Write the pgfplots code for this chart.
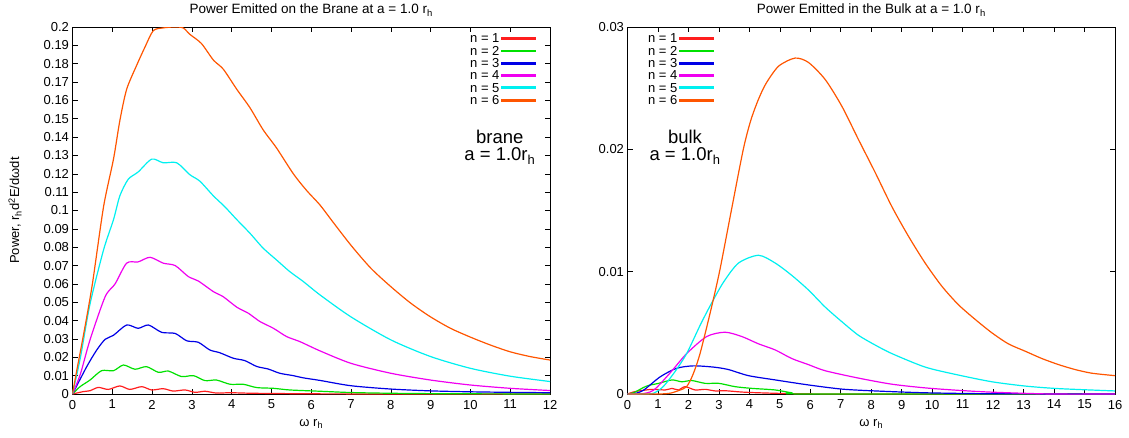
\documentclass[border=0pt]{standalone}
\usepackage{fontspec}
\setmainfont{Liberation Sans}
\usepackage{pgfplots}
\pgfplotsset{compat=1.18}
\definecolor{cA}{RGB}{255,30,30}
\definecolor{cB}{RGB}{0,225,0}
\definecolor{cC}{RGB}{0,0,230}
\definecolor{cD}{RGB}{240,0,240}
\definecolor{cE}{RGB}{0,240,240}
\definecolor{cF}{RGB}{255,85,0}
\pgfplotsset{
 gp/.style={
  scale only axis, height=367pt,
  tick align=inside, major tick length=5pt,
  axis line style={line width=0.8pt},
  tick style={black, line width=0.6pt},
  tick label style={font=\fontsize{13}{15}\selectfont},
  xticklabel style={yshift=-2.5pt},
  /pgf/number format/assume math mode=true,
  yticklabel style={/pgf/number format/fixed, /pgf/number format/precision=2},
  scaled y ticks=false, scaled x ticks=false,
  every axis title/.style={font=\fontsize{13.5}{15}\selectfont, at={(axis description cs:0.5,1)}, anchor=base, yshift=13pt},
  every axis x label/.style={font=\fontsize{13}{15}\selectfont, at={(axis description cs:0.5,0)}, anchor=base, yshift=-32pt},
  legend style={draw=none, fill=none, inner sep=0pt, outer sep=0pt,
    font=\fontsize{13}{13}\selectfont, cells={anchor=east},
    nodes={inner sep=1.5pt, text height=8.8pt, text depth=0.5pt}, row sep=0pt},
  legend plot pos=right,
  legend image code/.code={\fill[#1] (0pt,-0.8pt) rectangle (34pt,0.8pt);},
  every axis plot/.append style={line width=1.2pt, smooth, tension=0.45, no markers},
 }
}
\begin{document}
\begin{tikzpicture}
\path[use as bounding box] (0,0) rectangle (1129pt,437pt);
\begin{axis}[gp, at={(72.5pt,43pt)}, anchor=south west, width=477.5pt,
  xmin=0, xmax=12, ymin=0, ymax=0.2,
  xtick={0,1,...,12},
  ytick={0,0.01,0.02,0.03,0.04,0.05,0.06,0.07,0.08,0.09,0.1,0.11,0.12,0.13,0.14,0.15,0.16,0.17,0.18,0.19,0.2},
  title={Power Emitted on the Brane at a = 1.0 r\textsubscript{h}},
  xlabel={ω r\textsubscript{h}},
  ylabel={Power, r\textsubscript{h}d\textsuperscript{2}E/dωdt},
  every axis y label/.style={font=\fontsize{13}{15}\selectfont, at={(axis description cs:-0.1204,0.5)}, rotate=90, anchor=center},
  legend style={at={(axis description cs:0.971,0.985)}, anchor=north east},
]
\addplot[cA] coordinates {(0,0)(0.27,0.0013)(0.44,0.0018)(0.65,0.0036)(0.9,0.0025)(1.19,0.0044)(1.44,0.0025)(1.74,0.004)(1.99,0.0022)(2.28,0.0029)(2.53,0.0016)(2.83,0.0022)(3.08,0.0009)(3.33,0.0015)(3.62,0.0005)(3.96,0.0007)(4.5,0.0004)(5,0.0003)(6,0.0001)(8,0.00003)(12,0)};
\addlegendentry{n = 1}
\addplot[cB] coordinates {(0,0)(0.19,0.004)(0.44,0.0076)(0.73,0.0127)(1.03,0.0127)(1.28,0.0158)(1.57,0.0135)(1.86,0.0149)(2.16,0.0118)(2.41,0.0125)(2.74,0.0095)(3.04,0.010)(3.33,0.0073)(3.62,0.0076)(3.96,0.0053)(4.29,0.0053)(4.63,0.0035)(5.05,0.0031)(5.46,0.0022)(6.22,0.0015)(7,0.0008)(8,0.0004)(9,0.0002)(10,0.0001)(12,0)};
\addlegendentry{n = 2}
\addplot[cC] coordinates {(0,0)(0.36,0.015)(0.61,0.024)(0.82,0.0298)(1.03,0.032)(1.36,0.0376)(1.65,0.0358)(1.91,0.0376)(2.24,0.0336)(2.58,0.033)(2.87,0.029)(3.16,0.0282)(3.45,0.024)(3.70,0.0225)(4.04,0.0195)(4.33,0.0182)(4.63,0.015)(4.92,0.0136)(5.21,0.0113)(5.55,0.010)(5.80,0.0088)(6.22,0.0074)(7,0.0045)(8,0.0027)(9,0.0017)(10,0.0012)(11,0.0009)(12,0.0007)};
\addlegendentry{n = 3}
\addplot[cD] coordinates {(0,0)(0.2,0.011)(0.44,0.0295)(0.82,0.053)(1.07,0.060)(1.36,0.0713)(1.65,0.072)(1.95,0.0745)(2.28,0.0713)(2.58,0.070)(2.91,0.064)(3.16,0.0616)(3.54,0.0558)(3.79,0.053)(4.13,0.0473)(4.42,0.044)(4.71,0.0395)(5.05,0.0358)(5.38,0.0313)(5.72,0.0285)(6.22,0.0235)(7,0.0167)(8,0.0113)(9,0.0076)(10,0.0049)(11,0.0031)(12,0.0019)};
\addlegendentry{n = 4}
\addplot[cE] coordinates {(0,0)(0.2,0.02)(0.44,0.049)(0.78,0.0785)(1.03,0.095)(1.19,0.108)(1.40,0.117)(1.65,0.121)(1.99,0.128)(2.28,0.126)(2.62,0.126)(2.95,0.1195)(3.2,0.116)(3.54,0.108)(3.83,0.102)(4.13,0.095)(4.46,0.0876)(4.79,0.0795)(5.13,0.073)(5.46,0.0667)(5.80,0.0613)(6.22,0.054)(7,0.042)(8,0.0295)(9,0.0204)(10,0.014)(11,0.0097)(12,0.0068)};
\addlegendentry{n = 5}
\addplot[cF] coordinates {(0,0)(0.1,0.012)(0.3,0.035)(0.5,0.06)(0.78,0.102)(1.03,0.128)(1.19,0.149)(1.36,0.166)(1.61,0.179)(1.82,0.189)(2.03,0.198)(2.28,0.1995)(2.55,0.2)(2.78,0.1995)(2.95,0.196)(3.24,0.191)(3.54,0.182)(3.79,0.177)(4.13,0.166)(4.46,0.156)(4.79,0.144)(5.13,0.134)(5.55,0.120)(5.88,0.111)(6.22,0.103)(6.5,0.095)(7,0.081)(7.5,0.0685)(8,0.0585)(8.5,0.0495)(9,0.042)(9.5,0.0358)(10,0.031)(10.5,0.0267)(11,0.023)(11.5,0.0204)(12,0.0185)};
\addlegendentry{n = 6}
\node[align=center, font=\fontsize{18.5}{17.5}\selectfont] at (rel axis cs:0.895,0.673) {brane\\a = 1.0r\textsubscript{h}};
\end{axis}
\begin{axis}[gp, at={(627.5pt,43pt)}, anchor=south west, width=487.5pt,
  xmin=0, xmax=16, ymin=0, ymax=0.03,
  xtick={0,1,...,16},
  ytick={0,0.01,0.02,0.03},
  title={Power Emitted in the Bulk at a = 1.0 r\textsubscript{h}},
  xlabel={ω r\textsubscript{h}},
  legend style={at={(axis description cs:0.1774,0.985)}, anchor=north east},
]
\addplot[cA] coordinates {(0,0)(0.25,0.0002)(0.8,0.00038)(1.24,0.00033)(1.46,0.00046)(1.67,0.00033)(1.89,0.0006)(2.22,0.00033)(2.55,0.00038)(2.88,0.00025)(3.2,0.00027)(3.75,0.00016)(4.3,0.0001)(5.4,0.00003)(7.5,0)(16,0)};
\addlegendentry{n = 1}
\addplot[cB] coordinates {(0,0)(0.2,0.0001)(0.5,0.0005)(0.69,0.0007)(1.02,0.00087)(1.46,0.00115)(1.78,0.001)(2.11,0.0011)(2.55,0.00087)(3.0,0.00087)(3.53,0.0006)(4.08,0.00046)(4.85,0.00033)(5.39,0.0001)(5.94,0)(16,0)};
\addlegendentry{n = 2}
\addplot[cC] coordinates {(0,0)(0.2,0.00002)(0.52,0.0003)(1.07,0.0014)(1.61,0.0021)(2.16,0.0023)(2.82,0.0022)(3.31,0.002)(3.97,0.0015)(4.85,0.00115)(5.94,0.00074)(7.04,0.0004)(8.13,0.00025)(9.77,0.0001)(12,0.00002)(16,0)};
\addlegendentry{n = 3}
\addplot[cD] coordinates {(0,0)(0.41,0)(0.85,0.0003)(1.39,0.0017)(1.94,0.0033)(2.6,0.0047)(3.2,0.00505)(3.75,0.0047)(4.30,0.0041)(4.85,0.0036)(5.39,0.0029)(5.94,0.0024)(6.49,0.0019)(7.58,0.0013)(8.68,0.0008)(9.77,0.0005)(10.86,0.0003)(11.96,0.00015)(13.9,0)(16,0)};
\addlegendentry{n = 4}
\addplot[cE] coordinates {(0,0)(0.5,0)(0.85,0.00006)(1.17,0.0006)(1.55,0.0018)(1.94,0.0033)(2.38,0.0056)(2.71,0.0072)(3.14,0.0091)(3.64,0.0107)(4.30,0.01134)(4.85,0.0107)(5.39,0.0097)(5.94,0.0085)(6.49,0.0071)(7.04,0.0059)(7.58,0.0048)(8.13,0.0040)(8.68,0.0033)(9.77,0.0022)(10.86,0.00155)(11.96,0.0010)(13.05,0.00065)(14.15,0.00044)(16,0.00025)};
\addlegendentry{n = 5}
\addplot[cF] coordinates {(0,0)(1.0,0)(1.39,0.00006)(1.7,0.0003)(1.94,0.0006)(2.15,0.0016)(2.38,0.0033)(2.71,0.0066)(3.02,0.0100)(3.4,0.0149)(3.8,0.0200)(4.05,0.0224)(4.3,0.0241)(4.55,0.0254)(4.96,0.0268)(5.50,0.02746)(5.94,0.0271)(6.49,0.0257)(7.04,0.0235)(7.58,0.0208)(8.13,0.0181)(8.68,0.0153)(9.22,0.0129)(9.77,0.0107)(10.32,0.0088)(10.86,0.0073)(11.41,0.0061)(11.96,0.0050)(12.5,0.0041)(13.05,0.0035)(13.6,0.0029)(14.15,0.0024)(14.69,0.0020)(15.24,0.0017)(16,0.0015)};
\addlegendentry{n = 6}
\node[align=center, font=\fontsize{18.5}{17.5}\selectfont] at (rel axis cs:0.118,0.673) {bulk\\a = 1.0r\textsubscript{h}};
\end{axis}
\end{tikzpicture}
\end{document}
